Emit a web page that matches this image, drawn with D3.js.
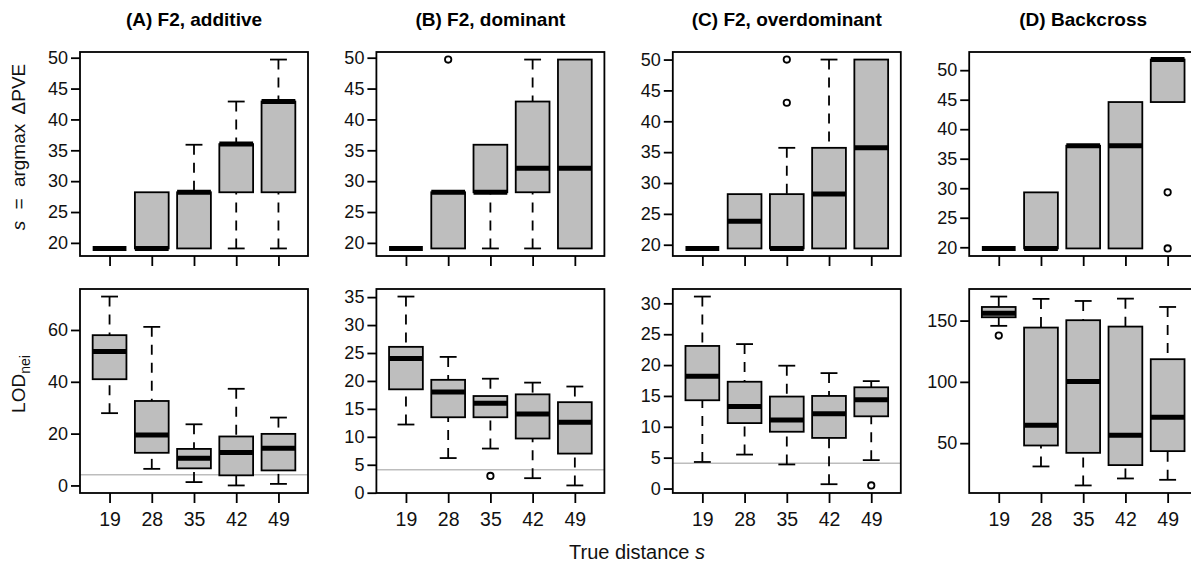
<!DOCTYPE html>
<html>
<head>
<meta charset="utf-8">
<script src="https://cdn.jsdelivr.net/npm/d3@7"></script>
<style>
  body { margin: 0; background: #fff; }
  svg { display: block; font-family: "Liberation Sans", Arial, sans-serif; }
</style>
</head>
<body>
<svg id="chart" width="1191" height="566"></svg>
<script>
// true distance categories (x axis in every panel)
var distances = [19, 28, 35, 42, 49];
var panelTitles = ['(A) F2, additive', '(B) F2, dominant', '(C) F2, overdominant', '(D) Backcross'];

// box stats per distance: [lower whisker, q1, median, q3, upper whisker]
var pveAdditive  = [[19.1, 19.1, 19.1, 19.1, 19.1], [19.1, 19.1, 19.1, 28.2, 28.2], [19.1, 19.1, 28.2, 28.2, 35.9], [19.1, 28.2, 36.0, 36.0, 42.9], [19.1, 28.2, 42.9, 42.9, 49.7]];
var pveDominant  = [[19.1, 19.1, 19.1, 19.1, 19.1], [19.1, 19.1, 28.2, 28.2, 28.2], [19.1, 28.2, 28.2, 35.9, 35.9], [19.1, 28.2, 32.1, 42.9, 49.7], [19.1, 19.1, 32.1, 49.7, 49.7]];
var pveOverdom   = [[19.4, 19.4, 19.4, 19.4, 19.4], [19.4, 19.4, 23.8, 28.2, 28.2], [19.4, 19.4, 19.4, 28.2, 35.7], [19.4, 19.4, 28.2, 35.7, 50.0], [19.4, 19.4, 35.7, 50.0, 50.0]];
var pveBackcross = [[19.8, 19.8, 19.8, 19.8, 19.8], [19.8, 19.8, 19.8, 29.3, 29.3], [19.8, 19.8, 37.2, 37.2, 37.2], [19.8, 19.8, 37.2, 44.6, 44.6], [44.6, 44.6, 51.8, 51.8, 51.8]];

var pveAdditiveOut  = [[], [], [], [], []];
var pveDominantOut  = [[], [49.7], [], [], []];
var pveOverdomOut   = [[], [], [43.0, 50.0], [], []];
var pveBackcrossOut = [[], [], [], [], [29.3, 19.8]];

var lodAdditive  = [[27.9, 41.0, 51.7, 58.0, 72.9], [6.4, 12.6, 19.5, 32.6, 61.2], [1.3, 6.6, 10.5, 14.1, 23.6], [0.0, 3.9, 12.7, 18.9, 37.3], [0.6, 5.8, 14.4, 19.9, 26.2]];
var lodDominant  = [[12.2, 18.5, 24.0, 26.1, 35.1], [6.2, 13.5, 18.0, 20.2, 24.3], [7.9, 13.5, 16.0, 17.3, 20.4], [2.6, 9.7, 14.1, 17.6, 19.7], [1.3, 7.0, 12.6, 16.2, 19.0]];
var lodOverdom   = [[4.3, 14.3, 18.2, 23.1, 31.1], [5.5, 10.6, 13.3, 17.3, 23.4], [3.9, 9.2, 11.1, 14.9, 19.9], [0.7, 8.2, 12.1, 15.0, 18.7], [4.6, 11.7, 14.4, 16.4, 17.4]];
var lodBackcross = [[145.7, 152.7, 156.0, 161.1, 169.6], [31.0, 48.1, 64.7, 144.3, 167.7], [15.5, 42.1, 100.3, 150.3, 166.0], [21.2, 32.1, 56.5, 145.1, 167.9], [20.1, 43.5, 71.2, 118.5, 161.1]];

var lodAdditiveOut  = [[], [], [], [], []];
var lodDominantOut  = [[], [], [3.0], [], []];
var lodOverdomOut   = [[], [], [], [], [0.5]];
var lodBackcrossOut = [[137.8], [], [], [], []];

var lodThreshold = 4.1;

// tick labels
var pveTicks = [20, 25, 30, 35, 40, 45, 50];
var lodTicks = [[0, 20, 40, 60], [0, 5, 10, 15, 20, 25, 30, 35], [0, 5, 10, 15, 20, 25, 30], [50, 100, 150]];

var panels = [
  {row: 0, col: 0, stats: pveAdditive,  out: pveAdditiveOut,  ticks: pveTicks},
  {row: 0, col: 1, stats: pveDominant,  out: pveDominantOut,  ticks: pveTicks},
  {row: 0, col: 2, stats: pveOverdom,   out: pveOverdomOut,   ticks: pveTicks},
  {row: 0, col: 3, stats: pveBackcross, out: pveBackcrossOut, ticks: pveTicks},
  {row: 1, col: 0, stats: lodAdditive,  out: lodAdditiveOut,  ticks: lodTicks[0]},
  {row: 1, col: 1, stats: lodDominant,  out: lodDominantOut,  ticks: lodTicks[1]},
  {row: 1, col: 2, stats: lodOverdom,   out: lodOverdomOut,   ticks: lodTicks[2]},
  {row: 1, col: 3, stats: lodBackcross, out: lodBackcrossOut, ticks: lodTicks[3]}
];

var colLeft = [80, 376.4, 672.8, 969.2],
    rowTop = [52, 289],
    width = 228,
    height = 204;

var svg = d3.select('#chart');

panels.forEach(function(p) {
  var g = svg.append('g')
    .attr('transform', 'translate(' + colLeft[p.col] + ',' + rowTop[p.row] + ')');

  // R-style ranges: data extent padded 4%
  var all = d3.merge(p.stats).concat(d3.merge(p.out));
  var ext = d3.extent(all), pad = (ext[1] - ext[0]) * 0.04;

  var x = d3.scalePoint().domain(distances).range([0, width]).padding(0.7),
      y = d3.scaleLinear().domain([ext[0] - pad, ext[1] + pad]).range([height, 0]);

  var bw = x.step() * 0.8, sw = bw * 0.5;

  if (p.row == 1 && lodThreshold > y.domain()[0]) {
    g.append('line')
      .attr('x1', 0).attr('x2', width)
      .attr('y1', y(lodThreshold)).attr('y2', y(lodThreshold))
      .attr('stroke', '#bdbdbd').attr('stroke-width', 1.5);
  }

  var box = g.selectAll('.box')
    .data(p.stats)
    .enter().append('g')
      .attr('class', 'box')
      .attr('transform', function(d, i) { return 'translate(' + x(distances[i]) + ',0)'; });

  // whiskers (dashed, from staple to box)
  box.append('line')
    .attr('y1', function(d) { return y(d[4]); }).attr('y2', function(d) { return y(d[3]); })
    .attr('stroke', '#000').attr('stroke-width', 1.8).attr('stroke-dasharray', '10 8')
    .style('display', function(d) { return d[4] > d[3] ? null : 'none'; });
  box.append('line')
    .attr('y1', function(d) { return y(d[0]); }).attr('y2', function(d) { return y(d[1]); })
    .attr('stroke', '#000').attr('stroke-width', 1.8).attr('stroke-dasharray', '10 8')
    .style('display', function(d) { return d[0] < d[1] ? null : 'none'; });

  // staples
  [0, 4].forEach(function(k) {
    box.append('line')
      .attr('x1', -sw / 2).attr('x2', sw / 2)
      .attr('y1', function(d) { return y(d[k]); }).attr('y2', function(d) { return y(d[k]); })
      .attr('stroke', '#000').attr('stroke-width', 1.8)
      .style('display', function(d) { return d[k] != d[k == 0 ? 1 : 3] ? null : 'none'; });
  });

  box.append('rect')
    .attr('x', -bw / 2).attr('width', bw)
    .attr('y', function(d) { return y(d[3]); })
    .attr('height', function(d) { return y(d[1]) - y(d[3]); })
    .attr('fill', '#bebebe').attr('stroke', '#000').attr('stroke-width', 1.8);

  box.append('line')
    .attr('x1', -bw / 2).attr('x2', bw / 2)
    .attr('y1', function(d) { return y(d[2]); }).attr('y2', function(d) { return y(d[2]); })
    .attr('stroke', '#000').attr('stroke-width', 5);

  // outliers
  p.out.forEach(function(vals, i) {
    g.selectAll(null)
      .data(vals)
      .enter().append('circle')
        .attr('cx', x(distances[i]))
        .attr('cy', function(d) { return y(d); })
        .attr('r', 3.2)
        .attr('fill', 'none').attr('stroke', '#000').attr('stroke-width', 1.8);
  });

  g.append('rect')
    .attr('width', width).attr('height', height)
    .attr('fill', 'none').attr('stroke', '#000').attr('stroke-width', 1.8);

  var ya = g.append('g')
    .call(d3.axisLeft(y).tickValues(p.ticks).tickSize(9).tickPadding(3))
    .attr('font-family', null).attr('font-size', 18);
  ya.select('.domain').remove();
  ya.selectAll('.tick line').attr('stroke-width', 1.8);
  ya.selectAll('.tick text').attr('fill', '#111');

  var xa = g.append('g')
    .attr('transform', 'translate(0,' + height + ')')
    .call(d3.axisBottom(x).tickSize(10).tickPadding(9)
      .tickFormat(p.row == 1 ? null : function() { return ''; }))
    .attr('font-family', null).attr('font-size', 19.5);
  xa.select('.domain').remove();
  xa.selectAll('.tick line').attr('stroke-width', 1.8);
  xa.selectAll('.tick text').attr('fill', '#111');
});

// panel titles
svg.selectAll('.title')
  .data(panelTitles)
  .enter().append('text')
    .attr('class', 'title')
    .attr('x', function(d, i) { return colLeft[i] + width / 2; })
    .attr('y', 26)
    .attr('text-anchor', 'middle')
    .attr('font-size', 19)
    .attr('font-weight', 'bold')
    .text(function(d) { return d; });

// y labels
var yl1 = svg.append('text')
  .attr('transform', 'translate(25,147) rotate(-90)')
  .attr('text-anchor', 'middle')
  .attr('font-size', 19)
  .attr('fill', '#111');
yl1.append('tspan').attr('font-style', 'italic').text('s');
yl1.append('tspan').attr('dx', 6).text(' = ');
yl1.append('tspan').attr('dx', 6).text('argmax ');
yl1.append('tspan').attr('dx', 4).text('\u0394PVE');

var yl2 = svg.append('text')
  .attr('transform', 'translate(25,384) rotate(-90)')
  .attr('text-anchor', 'middle')
  .attr('font-size', 19)
  .attr('fill', '#111');
yl2.append('tspan').text('LOD');
yl2.append('tspan').attr('dy', 5).attr('font-size', 14).text('nei');

// x label
var xl = svg.append('text')
  .attr('x', 637).attr('y', 559)
  .attr('text-anchor', 'middle')
  .attr('font-size', 20)
  .attr('fill', '#111');
xl.append('tspan').text('True distance ');
xl.append('tspan').attr('font-style', 'italic').text('s');
</script>
</body>
</html>
